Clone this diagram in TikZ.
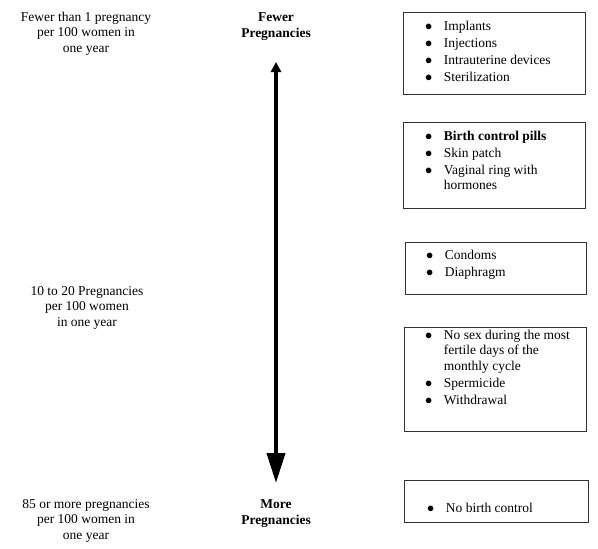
\documentclass[tikz,border=0pt]{standalone}
\usepackage{fontspec}
\setmainfont{Liberation Serif}
\usetikzlibrary{arrows.meta}

\newcommand{\bul}{$\bullet$}

\begin{document}
\begin{tikzpicture}[x=1pt,y=-1pt,font=\fontsize{13.5}{15.5}\selectfont,
  rate/.style={align=center,anchor=base,inner sep=0pt},
  method/.style={draw=black!80,line width=0.8pt,anchor=north west,inner sep=0pt},
  items/.style={anchor=base west,inner sep=0pt}]
\useasboundingbox (0,0) rectangle (598,549);
% left column: pregnancy rates (anchored at last line)
\node[rate] (rate-low) at (86,52) {Fewer than 1 pregnancy\\per 100 women in\\one year};
\node[rate] (rate-mid) at (87,326) {10 to 20 Pregnancies\\per 100 women\\in one year};
\node[rate] (rate-high) at (86,539) {85 or more pregnancies\\per 100 women in\\one year};
% middle: the scale
\node[rate,font=\fontsize{13.5}{15.5}\selectfont\bfseries] (fewer) at (276,37) {Fewer\\Pregnancies};
\node[rate,font=\fontsize{13.5}{15.5}\selectfont\bfseries] (more) at (276,524) {More\\Pregnancies};
\coordinate (up) at (276,62);
\coordinate (down) at (276,483);
\draw[line width=4pt,{Triangle[length=10pt,width=10pt]}-{Triangle[length=30pt,width=18pt]}] (up) -- (down);
% right column: methods
\node[method,minimum width=182,minimum height=82] (box-a) at (403,12) {};
\node[method,minimum width=182,minimum height=86] (box-b) at (403,122) {};
\node[method,minimum width=181,minimum height=52] (box-c) at (405,242) {};
\node[method,minimum width=182,minimum height=104] (box-d) at (404,327) {};
\node[method,minimum width=184,minimum height=42] (box-e) at (404,480) {};
\node[items] (list-a) at (425,30) {\begin{tabular}[t]{@{}l@{\hspace{11.5pt}}l@{}}
  \bul & Implants\\[1.5pt]
  \bul & Injections\\[1.5pt]
  \bul & Intrauterine devices\\[1.5pt]
  \bul & Sterilization
\end{tabular}};
\node[items] (list-b) at (425,140) {\begin{tabular}[t]{@{}l@{\hspace{11.5pt}}l@{}}
  \bul & \textbf{Birth control pills}\\[1.5pt]
  \bul & Skin patch\\[1.5pt]
  \bul & Vaginal ring with\\
       & hormones
\end{tabular}};
\node[items] (list-c) at (426,259) {\begin{tabular}[t]{@{}l@{\hspace{11.5pt}}l@{}}
  \bul & Condoms\\[1.5pt]
  \bul & Diaphragm
\end{tabular}};
\node[items] (list-d) at (425,339) {\begin{tabular}[t]{@{}l@{\hspace{11.5pt}}l@{}}
  \bul & No sex during the most\\
       & fertile days of the\\
       & monthly cycle\\[1.5pt]
  \bul & Spermicide\\[1.5pt]
  \bul & Withdrawal
\end{tabular}};
\node[items] (list-e) at (427,512) {\begin{tabular}[t]{@{}l@{\hspace{11.5pt}}l@{}}
  \bul & No birth control
\end{tabular}};
\end{tikzpicture}
\end{document}
